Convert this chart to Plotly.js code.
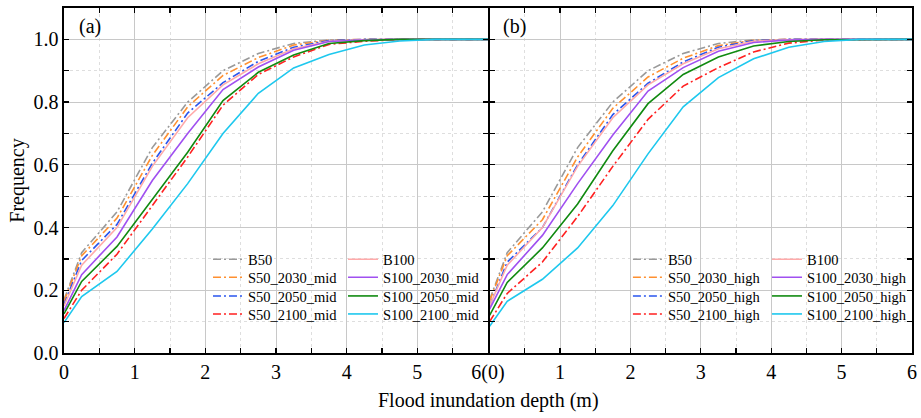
<!DOCTYPE html>
<html>
<head>
<meta charset="utf-8">
<script src="https://cdn.plot.ly/plotly-3.0.1.min.js"></script>
<style>html,body{margin:0;padding:0;background:#fff;}#chart{width:921px;height:418px;}</style>
</head>
<body>
<div id="chart"></div>
<script>
// Flood inundation depth (m)
const depth = [0, 0.25, 0.75, 1.25, 1.75, 2.25, 2.75, 3.25, 3.75, 4.25, 4.75, 5.25, 5.75, 6];

// Baselines (same in both panels)
const B50  = [0.17, 0.32, 0.45, 0.655, 0.80, 0.90, 0.955, 0.987, 0.998, 1, 1, 1, 1, 1];
const B100 = [0.15, 0.28, 0.40, 0.595, 0.75, 0.855, 0.922, 0.97, 0.994, 0.999, 1, 1, 1, 1];

// Panel (a): mid scenarios
const S50_2030_mid  = [0.165, 0.31, 0.43, 0.63, 0.785, 0.885, 0.942, 0.982, 0.997, 1, 1, 1, 1, 1];
const S50_2050_mid  = [0.155, 0.295, 0.41, 0.605, 0.765, 0.862, 0.93, 0.975, 0.996, 1, 1, 1, 1, 1];
const S50_2100_mid  = [0.11, 0.20, 0.315, 0.47, 0.625, 0.79, 0.888, 0.944, 0.984, 0.994, 0.999, 1, 1, 1];
const S100_2030_mid = [0.135, 0.25, 0.37, 0.55, 0.70, 0.84, 0.912, 0.965, 0.993, 0.998, 1, 1, 1, 1];
const S100_2050_mid = [0.125, 0.228, 0.34, 0.49, 0.64, 0.805, 0.895, 0.95, 0.987, 0.996, 1, 1, 1, 1];
const S100_2100_mid = [0.097, 0.18, 0.26, 0.395, 0.54, 0.70, 0.828, 0.909, 0.952, 0.982, 0.995, 1, 1, 1];

// Panel (b): high scenarios
const S50_2030_high  = [0.165, 0.31, 0.425, 0.625, 0.78, 0.88, 0.94, 0.98, 0.997, 1, 1, 1, 1, 1];
const S50_2050_high  = [0.15, 0.29, 0.40, 0.60, 0.76, 0.86, 0.928, 0.975, 0.996, 1, 1, 1, 1, 1];
const S50_2100_high  = [0.10, 0.19, 0.29, 0.435, 0.595, 0.745, 0.851, 0.91, 0.96, 0.988, 0.998, 1, 1, 1];
const S100_2030_high = [0.14, 0.25, 0.375, 0.54, 0.695, 0.835, 0.91, 0.962, 0.99, 0.998, 1, 1, 1, 1];
const S100_2050_high = [0.12, 0.225, 0.335, 0.475, 0.645, 0.795, 0.888, 0.944, 0.979, 0.993, 0.999, 1, 1, 1];
const S100_2100_high = [0.085, 0.165, 0.235, 0.335, 0.47, 0.635, 0.785, 0.878, 0.938, 0.975, 0.993, 1, 1, 1];

const xTickValsA = [0, 1, 2, 3, 4, 5, 6];
const xTickTextA = ['0', '1', '2', '3', '4', '5', '6(0)'];
const xTickValsB = [1, 2, 3, 4, 5, 6];
const xTickTextB = ['1', '2', '3', '4', '5', '6'];

const FONT = 'Liberation Serif, Times New Roman, serif';
const DD = '8px,3px,2px,3px';
const C = {gray:'#999999', orange:'#ff9030', blue:'#2a55ee', red:'#ff2020',
           pink:'#ffaaaa', purple:'#a050f0', green:'#108a10', cyan:'#1ec8ee'};

function tr(y, name, color, dash, xa, ya, leg) {
  return {x: depth, y: y, name: name, type: 'scatter', mode: 'lines',
          xaxis: xa, yaxis: ya, legend: leg,
          line: {color: color, width: 1.6, dash: dash}};
}

// every legend entry is its own legend box so rows/columns can be placed exactly
const data = [
  tr(B50, 'B50', C.gray, DD, 'x', 'y', 'legend'),
  tr(S50_2030_mid, 'S50_2030_mid', C.orange, DD, 'x', 'y', 'legend2'),
  tr(S50_2050_mid, 'S50_2050_mid', C.blue, DD, 'x', 'y', 'legend3'),
  tr(S50_2100_mid, 'S50_2100_mid', C.red, DD, 'x', 'y', 'legend4'),
  tr(B100, 'B100', C.pink, 'solid', 'x', 'y', 'legend5'),
  tr(S100_2030_mid, 'S100_2030_mid', C.purple, 'solid', 'x', 'y', 'legend6'),
  tr(S100_2050_mid, 'S100_2050_mid', C.green, 'solid', 'x', 'y', 'legend7'),
  tr(S100_2100_mid, 'S100_2100_mid', C.cyan, 'solid', 'x', 'y', 'legend8'),

  tr(B50, 'B50', C.gray, DD, 'x2', 'y2', 'legend9'),
  tr(S50_2030_high, 'S50_2030_high', C.orange, DD, 'x2', 'y2', 'legend10'),
  tr(S50_2050_high, 'S50_2050_high', C.blue, DD, 'x2', 'y2', 'legend11'),
  tr(S50_2100_high, 'S50_2100_high', C.red, DD, 'x2', 'y2', 'legend12'),
  tr(B100, 'B100', C.pink, 'solid', 'x2', 'y2', 'legend13'),
  tr(S100_2030_high, 'S100_2030_high', C.purple, 'solid', 'x2', 'y2', 'legend14'),
  tr(S100_2050_high, 'S100_2050_high', C.green, 'solid', 'x2', 'y2', 'legend15'),
  tr(S100_2100_high, 'S100_2100_high', C.cyan, 'solid', 'x2', 'y2', 'legend16')
];

const gridMajor = '#c8c8c8';
const gridMinor = '#dedede';

function xax(domain, vals, text, anchor) {
  return {domain: domain, range: [0, 6], anchor: anchor,
    tickmode: 'array', tickvals: vals, ticktext: text,
    ticks: 'inside', ticklen: 5, tickwidth: 1.2, tickcolor: '#000',
    showline: true, linecolor: '#000', linewidth: 1.6, mirror: 'ticks',
    showgrid: true, gridcolor: gridMajor, gridwidth: 1,
    minor: {dtick: 0.5, tick0: 0, ticks: 'inside', ticklen: 5, tickcolor: '#000',
            showgrid: true, gridcolor: gridMinor, griddash: 'dot', gridwidth: 1},
    zeroline: false, fixedrange: true,
    tickfont: {family: FONT, size: 20, color: '#000'}};
}
function yax(anchor, labels) {
  return {domain: [0, 1], range: [0, 1.1], anchor: anchor,
    tickmode: 'linear', tick0: 0, dtick: 0.2, tickformat: '.1f',
    showticklabels: labels,
    ticks: 'inside', ticklen: 5, tickwidth: 1.2, tickcolor: '#000',
    showline: true, linecolor: '#000', linewidth: 1.6, mirror: 'ticks',
    showgrid: true, gridcolor: gridMajor, gridwidth: 1,
    minor: {dtick: 0.1, tick0: 0, ticks: 'inside', ticklen: 5, tickcolor: '#000',
            showgrid: true, gridcolor: gridMinor, griddash: 'dot', gridwidth: 1},
    zeroline: false, fixedrange: true,
    tickfont: {family: FONT, size: 20, color: '#000'}};
}

function leg(x, y) {
  return {x: x, y: y, xanchor: 'left', yanchor: 'middle', xref: 'paper', yref: 'paper',
          bgcolor: 'rgba(0,0,0,0)', borderwidth: 0, tracegroupgap: 0,
          font: {family: FONT, size: 14.5, color: '#000'}};
}

const ya = yax('x', true);
ya.title = {text: 'Frequency', font: {family: FONT, size: 20, color: '#000'}, standoff: 3};

const rowY = [0.2716, 0.2194, 0.1652, 0.113];
const colX = [0.1698, 0.329, 0.665, 0.829];

const layout = {
  width: 921, height: 418,
  margin: {l: 64, r: 9, t: 8, b: 65},
  paper_bgcolor: '#fff', plot_bgcolor: '#fff',
  showlegend: true,
  xaxis: xax([0, 0.5], xTickValsA, xTickTextA, 'y'),
  yaxis: ya,
  xaxis2: xax([0.5019, 1], xTickValsB, xTickTextB, 'y2'),
  yaxis2: yax('x2', false),
  annotations: [
    {text: '(a)', xref: 'paper', yref: 'paper', x: 0.0153, y: 0.945, xanchor: 'left', yanchor: 'middle',
     showarrow: false, font: {family: FONT, size: 20, color: '#000'}},
    {text: '(b)', xref: 'paper', yref: 'paper', x: 0.5153, y: 0.945, xanchor: 'left', yanchor: 'middle',
     showarrow: false, font: {family: FONT, size: 20, color: '#000'}},
    {text: 'Flood inundation depth (m)', xref: 'paper', yref: 'paper', x: 0.5, y: -0.139,
     xanchor: 'center', yanchor: 'middle', showarrow: false,
     font: {family: FONT, size: 20, color: '#000'}}
  ]
};
for (let i = 0; i < 16; i++) {
  const col = Math.floor(i / 4), row = i % 4;
  layout[i === 0 ? 'legend' : 'legend' + (i + 1)] = leg(colX[col], rowY[row]);
}

Plotly.newPlot('chart', data, layout, {staticPlot: true, displayModeBar: false});
</script>
</body>
</html>
